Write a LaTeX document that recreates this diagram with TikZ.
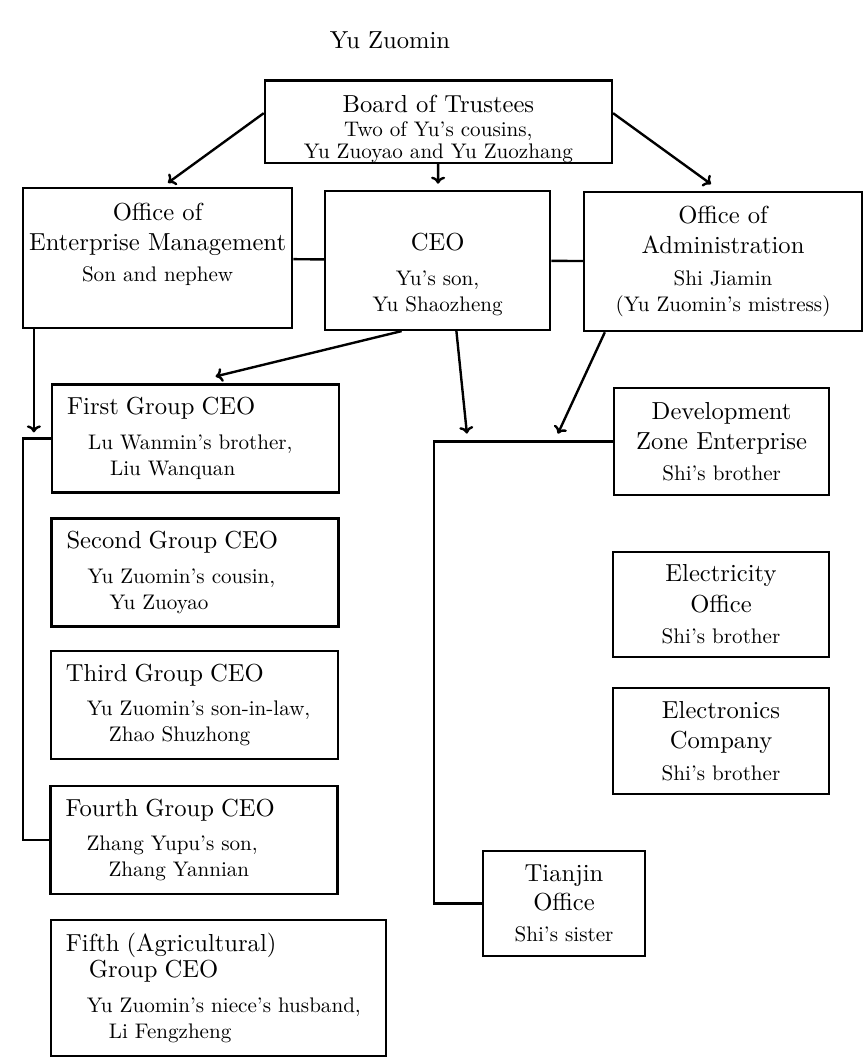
\documentclass[tikz,border=0pt]{standalone}
\usepackage{fontspec}
\setmainfont{lmroman10-regular}[Extension = .otf]
\usetikzlibrary{arrows.meta, calc}

% larger type for the heading lines of a box
\newcommand{\hd}[1]{{\fontsize{17.5}{21}\selectfont #1}}

\begin{document}
\begin{tikzpicture}[
        font = \fontsize{15}{18.5}\selectfont,
        line width = 1.7pt,
        > = {To[length = 5pt, width = 10pt]},
        box/.style = {draw, rectangle, inner sep = 0pt, align = center},
        group/.style = {draw, rectangle, inner xsep = 0.375cm, inner ysep = 0pt,
            align = left, text width = 6.425cm, minimum height = 2.7cm}
    ]
    \useasboundingbox (0, 0) rectangle (21.6, -26.425);

    % top level
    \node (founder) at (9.75, -1.0) {\hd{Yu Zuomin}};
    \node [box, minimum width = 8.675cm, minimum height = 2.025cm] (board) at (10.96, -3.04)
        {\rule{0pt}{23pt}\hd{Board of Trustees}\\[-1.5pt] Two of Yu's cousins,\\[-3pt] Yu Zuoyao and Yu Zuozhang};

    % second level
    \node [box, minimum width = 6.725cm, minimum height = 3.5cm] (mgmt) at (3.94, -6.45)
        {\hd{Office of}\\[3pt] \hd{Enterprise Management}\\[3pt] Son and nephew\\[4pt] \mbox{}};
    \node [box, minimum width = 5.625cm, minimum height = 3.475cm] (ceo) at (10.94, -6.51)
        {\rule{0pt}{32.5pt}\hd{CEO}\\[6pt] Yu's son,\\ Yu Shaozheng};
    \node [box, minimum width = 6.95cm, minimum height = 3.475cm] (admin) at (18.075, -6.54)
        {\hd{Office of}\\[3pt] \hd{Administration}\\[4pt] Shi Jiamin\\ (Yu Zuomin's mistress)};

    % the five groups
    \node [group] (first) at (4.89, -10.96)
        {\hd{First Group CEO}\\[6pt] \hspace*{0.525cm}Lu Wanmin's brother,\\ \hspace*{1.075cm}Liu Wanquan};
    \node [group] (second) at (4.875, -14.31)
        {\hd{Second Group CEO}\\[6pt] \hspace*{0.525cm}Yu Zuomin's cousin,\\ \hspace*{1.075cm}Yu Zuoyao};
    \node [group] (third) at (4.86, -17.625)
        {\hd{Third Group CEO}\\[6pt] \hspace*{0.525cm}Yu Zuomin's son-in-law,\\ \hspace*{1.075cm}Zhao Shuzhong};
    \node [group] (fourth) at (4.85, -21.0)
        {\hd{Fourth Group CEO}\\[6pt] \hspace*{0.525cm}Zhang Yupu's son,\\ \hspace*{1.075cm}Zhang Yannian};
    \node [group, text width = 7.625cm, minimum height = 3.4cm] (fifth) at (5.46, -24.7)
        {\hd{Fifth (Agricultural)}\\ \hspace*{0.575cm}\hd{Group CEO}\\[6pt] \hspace*{0.525cm}Yu Zuomin's niece's husband,\\ \hspace*{1.075cm}Li Fengzheng};

    % Shi's side
    \node [box, minimum width = 5.375cm, minimum height = 2.675cm] (devzone) at (18.04, -11.04)
        {\hd{Development}\\[3pt] \hd{Zone Enterprise}\\[3pt] Shi's brother};
    \node [box, minimum width = 5.4cm, minimum height = 2.625cm] (elec) at (18.025, -15.11)
        {\hd{Electricity}\\[3pt] \hd{Office}\\[4pt] Shi's brother};
    \node [box, minimum width = 5.4cm, minimum height = 2.65cm] (electronics) at (18.025, -18.525)
        {\hd{Electronics}\\[3pt] \hd{Company}\\[4pt] Shi's brother};
    \node [box, minimum width = 4.05cm, minimum height = 2.625cm] (tianjin) at (14.1, -22.59)
        {\hd{Tianjin}\\[2pt] \hd{Office}\\[4pt] Shi's sister};

    % board downwards
    \draw [->] ([yshift = 0.21cm]board.west) -- ([xshift = 0.26cm, yshift = 0.1cm]mgmt.north);
    \draw [->, shorten > = 0.15cm] (board) -- (ceo);
    \draw [->] ([yshift = 0.21cm]board.east) -- ([xshift = -0.3cm, yshift = 0.17cm]admin.north);
    \draw
        (mgmt) -- (ceo)
        (ceo) -- (admin)
    ;

    % brackets
    \coordinate (lcorner) at ($(first.west) + (-0.7, 0)$);
    \coordinate (rcorner) at ($(devzone.west) + (-4.475, 0)$);
    \draw (first.west) -- (lcorner) |- (fourth.west);
    \draw (devzone.west) -- (rcorner) |- (tianjin.west);

    \draw [->] ([xshift = 0.3cm]mgmt.south west) -- ($(mgmt.south west |- lcorner) + (0.3, 0.15)$);
    \draw [->] ([xshift = -0.9cm]ceo.south) -- ([xshift = 0.5cm, yshift = 0.17cm]first.north);
    \draw [->] ([xshift = 0.47cm]ceo.south) -- ($(rcorner) + (0.825, 0.2)$);
    \draw [->] ([xshift = 0.55cm]admin.south west) -- ($(rcorner) + (3.1, 0.2)$);
\end{tikzpicture}
\end{document}
